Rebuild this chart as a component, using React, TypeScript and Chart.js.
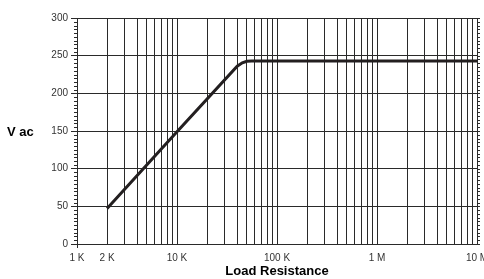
import React, { useEffect, useRef } from "react";
import { Chart, registerables } from "chart.js";

Chart.register(...registerables);

// Data
const resistance = [2000, 10000, 40000, 45000, 50000, 56000, 10000000];
const vac = [47, 149, 236, 240.5, 242.5, 243, 243];

// Axis ticks
const decades = [1000, 10000, 100000, 1000000];
const multipliers = [1, 2, 3, 4, 5, 6, 7, 8, 9];
const xMax = 10000000;
const labeledTicks = [1000, 2000, 10000, 100000, 1000000, 10000000];
const labelTexts = ["1 K", "2 K", "10 K", "100 K", "1 M", "10 M"];
const yMin = 0;
const yMax = 300;
const yStep = 50;
const yMinorStep = 5;

const FONT = "'Liberation Sans', Arial, Helvetica, sans-serif";
const LINE = "#2a2a2a";

const extrasPlugin = {
  id: "extras",
  afterDraw(chart: any) {
    const { ctx, chartArea, scales } = chart;
    const y = scales.y;
    ctx.save();
    ctx.strokeStyle = LINE;
    ctx.lineWidth = 1;
    ctx.beginPath();
    for (let v = yMin; v <= yMax; v += yMinorStep) {
      const py = Math.round(y.getPixelForValue(v)) + 0.5;
      if (v % yStep !== 0) {
        ctx.moveTo(chartArea.left - 3, py);
        ctx.lineTo(chartArea.left, py);
      }
      ctx.moveTo(chartArea.right, py);
      ctx.lineTo(chartArea.right + 3, py);
    }
    const lx = Math.round(chartArea.left) + 0.5;
    ctx.moveTo(lx, chartArea.bottom);
    ctx.lineTo(lx, chartArea.bottom + 4);
    ctx.stroke();
    ctx.fillStyle = "#000";
    ctx.font = `bold 13px ${FONT}`;
    ctx.textAlign = "left";
    ctx.textBaseline = "middle";
    ctx.fillText("V ac", 7, (chartArea.top + chartArea.bottom) / 2 + 1);
    ctx.restore();
  },
};

export default function App() {
  const ref = useRef<HTMLCanvasElement | null>(null);
  useEffect(() => {
    if (!ref.current) return;
    const xTicks: number[] = [];
    decades.forEach((d) => multipliers.forEach((m) => xTicks.push(d * m)));
    xTicks.push(xMax);
    const chart = new Chart(ref.current, {
      type: "line",
      data: {
        datasets: [
          {
            data: resistance.map((r, i) => ({ x: r, y: vac[i] })),
            borderColor: "#231f20",
            borderWidth: 3,
            pointRadius: 0,
            tension: 0,
            fill: false,
          },
        ],
      },
      options: {
        animation: false,
        responsive: true,
        maintainAspectRatio: false,
        layout: { padding: { top: 18, right: 7, bottom: 0, left: 0 } },
        plugins: { legend: { display: false }, tooltip: { enabled: false } },
        scales: {
          x: {
            type: "logarithmic",
            min: 1000,
            max: xMax,
            afterBuildTicks: (scale: any) => {
              scale.ticks = xTicks.map((v) => ({ value: v }));
            },
            afterFit: (scale: any) => {
              scale.height = 35;
              scale.paddingLeft = 0;
              scale.paddingRight = 0;
            },
            ticks: {
              autoSkip: false,
              maxRotation: 0,
              minRotation: 0,
              padding: 8,
              color: "#333",
              font: { family: FONT, size: 10 },
              callback: (value: any) => {
                const idx = labeledTicks.indexOf(Number(value));
                return idx >= 0 ? labelTexts[idx] : "";
              },
            },
            grid: { color: LINE, lineWidth: 1, drawTicks: false },
            border: { display: true, color: LINE, width: 1 },
            title: {
              display: true,
              text: "Load Resistance",
              color: "#000",
              font: { family: FONT, size: 13, weight: "bold" },
              padding: { top: 0, bottom: 0 },
            },
          },
          y: {
            type: "linear",
            min: yMin,
            max: yMax,
            afterFit: (scale: any) => {
              scale.width = 77;
            },
            ticks: {
              stepSize: yStep,
              padding: 3,
              color: "#333",
              font: { family: FONT, size: 10 },
            },
            grid: { color: LINE, lineWidth: 1, drawTicks: true, tickLength: 6 },
            border: { display: true, color: LINE, width: 1 },
          },
        },
      },
      plugins: [extrasPlugin],
    } as any);
    return () => chart.destroy();
  }, []);
  return (
    <div style={{ position: "absolute", left: 0, top: 0, width: 484, height: 279, background: "#fff" }}>
      <canvas ref={ref} />
    </div>
  );
}
